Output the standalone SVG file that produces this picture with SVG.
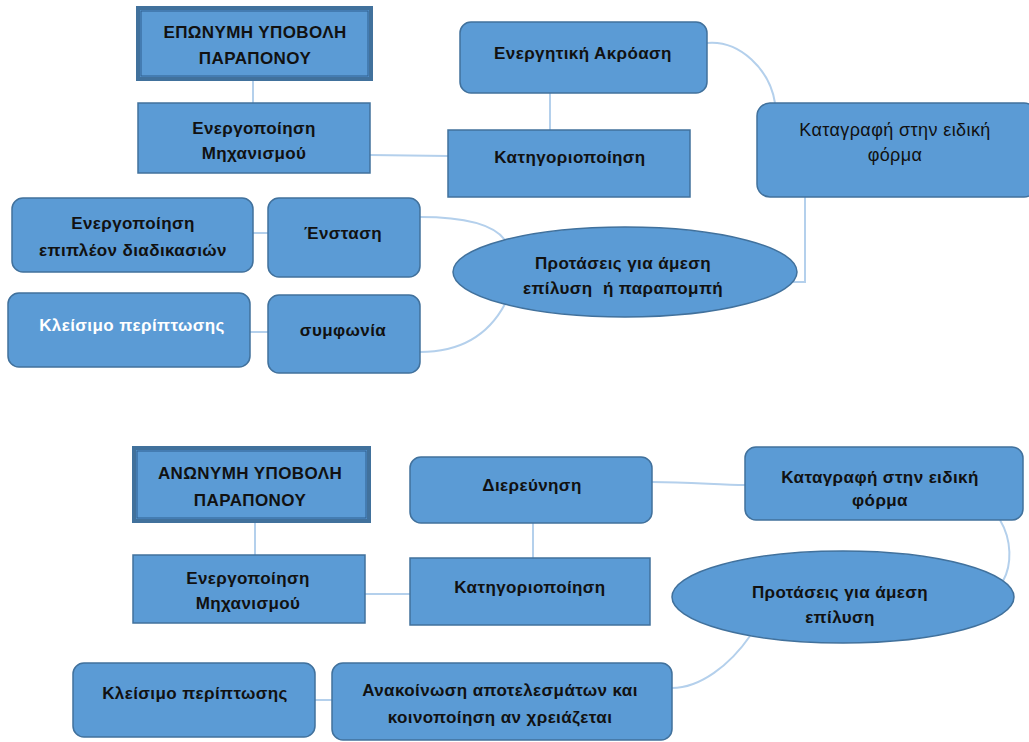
<svg xmlns="http://www.w3.org/2000/svg" width="1029" height="742" viewBox="0 0 1029 742">
<style>
.box{fill:#5b9bd5;stroke:#41719c;stroke-width:1.5}
.dbl{fill:#5b9bd5;stroke:#41719c;stroke-width:4}
.inner{fill:none;stroke:#2f5f8f;stroke-width:1}
.t{font-family:"Liberation Sans",Arial,sans-serif;font-size:17px;letter-spacing:0.4px;font-weight:bold;fill:#111;text-anchor:middle}
.r{font-weight:normal;font-size:18px}
.w{fill:#fff}
.c{fill:none;stroke:#b4d0ec;stroke-width:2}
</style>
<rect width="1029" height="742" fill="#fff"/>
<g id="connectors">
<path class="c" d="M253,80 V103"/>
<path class="c" d="M550,93 V130"/>
<path class="c" d="M370,155 L448,156"/>
<path class="c" d="M707,43 C740,40 770,70 775,103"/>
<path class="c" d="M805,197 V282 H793"/>
<path class="c" d="M253,233 H268"/>
<path class="c" d="M250,332 H268"/>
<path class="c" d="M420,217 C468,217 494,225 505,240"/>
<path class="c" d="M420,352 C465,352 490,332 505,304"/>
<path class="c" d="M255,522 V555"/>
<path class="c" d="M365,594 H410"/>
<path class="c" d="M533,523 V558"/>
<path class="c" d="M652,482 C690,482 720,485 745,485"/>
<path class="c" d="M1000,520 C1012,540 1012,565 1003,581"/>
<path class="c" d="M750,636 C730,665 700,688 672,688"/>
<path class="c" d="M315,700 H332"/>
</g>
<g id="n1"><rect class="dbl" x="138" y="8" width="233" height="71"/><rect class="inner" x="141" y="11" width="227" height="65"/><text class="t" x="255" y="38">ΕΠΩΝΥΜΗ ΥΠΟΒΟΛΗ</text><text class="t" x="255" y="64">ΠΑΡΑΠΟΝΟΥ</text></g>
<g id="n2"><rect class="box" x="138" y="103" width="232" height="70"/><text class="t" x="254" y="134">Ενεργοποίηση</text><text class="t" x="254" y="159">Μηχανισμού</text></g>
<g id="n3"><rect class="box" x="460" y="22" width="247" height="71" rx="11"/><text class="t" x="583" y="59">Ενεργητική Ακρόαση</text></g>
<g id="n4"><rect class="box" x="448" y="130" width="242" height="67"/><text class="t" x="570" y="163">Κατηγοριοποίηση</text></g>
<g id="n5"><rect class="box" x="757" y="103" width="280" height="94" rx="13"/><text class="t r" x="895" y="136">Καταγραφή στην ειδική</text><text class="t r" x="895" y="161">φόρμα</text></g>
<g id="n6"><rect class="box" x="12" y="198" width="241" height="74" rx="11"/><text class="t" x="133" y="229">Ενεργοποίηση</text><text class="t" x="133" y="256">επιπλέον διαδικασιών</text></g>
<g id="n7"><rect class="box" x="268" y="198" width="152" height="79" rx="11"/><text class="t" x="343" y="239">Ένσταση</text></g>
<g id="n8"><rect class="box" x="8" y="293" width="242" height="74" rx="11"/><text class="t w" x="132" y="331">Κλείσιμο περίπτωσης</text></g>
<g id="n9"><rect class="box" x="268" y="295" width="152" height="78" rx="11"/><text class="t" x="343" y="336">συμφωνία</text></g>
<g id="n10"><ellipse class="box" cx="625" cy="272" rx="172" ry="45"/><text class="t" x="623" y="269">Προτάσεις για άμεση</text><text class="t" x="623" y="294" xml:space="preserve">επίλυση  ή παραπομπή</text></g>
<g id="n11"><rect class="dbl" x="134" y="448" width="235" height="73"/><rect class="inner" x="137" y="451" width="229" height="67"/><text class="t" x="250" y="479">ΑΝΩΝΥΜΗ ΥΠΟΒΟΛΗ</text><text class="t" x="250" y="506">ΠΑΡΑΠΟΝΟΥ</text></g>
<g id="n12"><rect class="box" x="133" y="555" width="232" height="68"/><text class="t" x="248" y="584">Ενεργοποίηση</text><text class="t" x="248" y="609">Μηχανισμού</text></g>
<g id="n13"><rect class="box" x="410" y="457" width="242" height="66" rx="11"/><text class="t" x="532" y="491">Διερεύνηση</text></g>
<g id="n14"><rect class="box" x="410" y="558" width="240" height="67"/><text class="t" x="530" y="593">Κατηγοριοποίηση</text></g>
<g id="n15"><rect class="box" x="745" y="447" width="278" height="73" rx="11"/><text class="t" x="880" y="483">Καταγραφή στην ειδική</text><text class="t" x="880" y="506">φόρμα</text></g>
<g id="n16"><ellipse class="box" cx="843" cy="597" rx="171" ry="46"/><text class="t" x="840" y="598">Προτάσεις για άμεση</text><text class="t" x="840" y="623">επίλυση</text></g>
<g id="n17"><rect class="box" x="73" y="663" width="242" height="74" rx="11"/><text class="t" x="195" y="699">Κλείσιμο περίπτωσης</text></g>
<g id="n18"><rect class="box" x="332" y="663" width="340" height="77" rx="11"/><text class="t" x="500" y="696">Ανακοίνωση αποτελεσμάτων και</text><text class="t" x="500" y="723">κοινοποίηση αν χρειάζεται</text></g>
</svg>
